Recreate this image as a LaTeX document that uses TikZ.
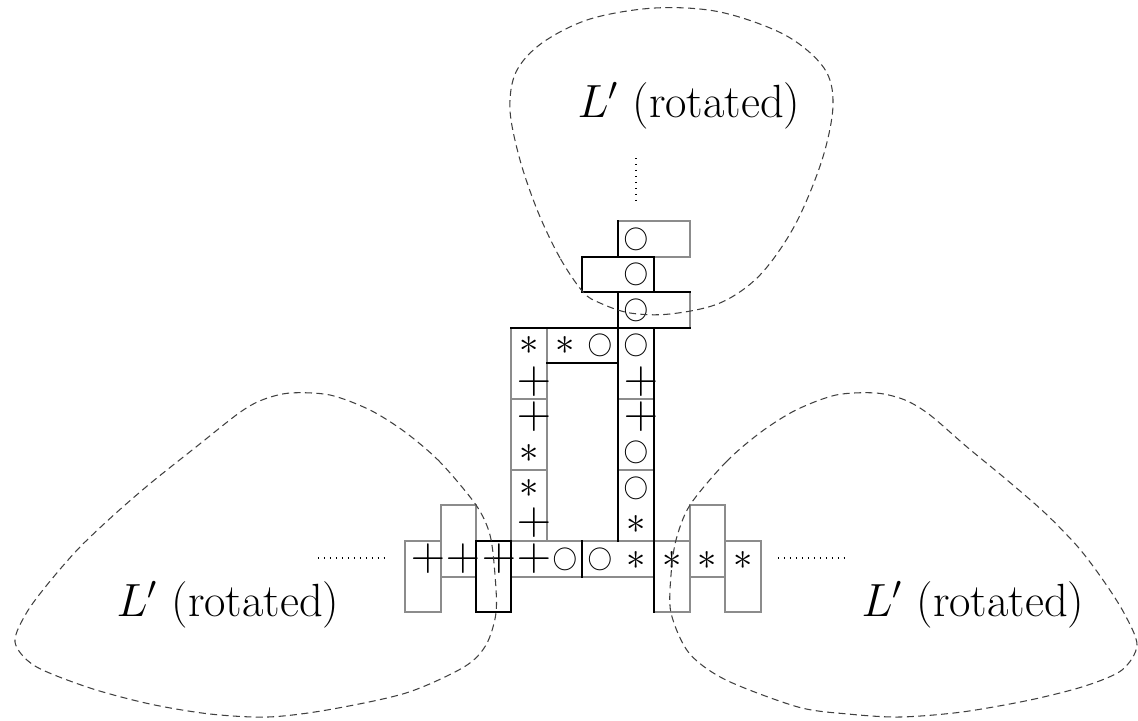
\RequirePackage{fix-cm}
\documentclass[tikz,border=0pt]{standalone}
\begin{document}
\begin{tikzpicture}[x=0.02cm,y=-0.02cm,
  tile/.style={draw=black!45,line width=0.8pt},
  edge/.style={draw=black,line width=0.8pt,line cap=rect},
  region/.style={draw=black!75,line width=0.6pt,dash pattern=on 4pt off 2.5pt},
  lead/.style={draw=black,line width=0.8pt,dash pattern=on 0.8pt off 2.6pt},
  sym/.style={inner sep=0pt,outer sep=0pt},
  plussym/.style={sym,font=\fontsize{27}{27}\selectfont},
  astsym/.style={sym,font=\fontsize{22}{22}\selectfont},
  circsym/.style={sym,font=\fontsize{14}{14}\selectfont},
  label/.style={inner sep=0pt,font=\fontsize{26.5}{30}\selectfont}
]
\useasboundingbox (0,0) rectangle (1138,720);

% dominoes, grey outlines
\draw[tile] (618,221) rectangle (690,257);
\draw[tile] (582,257) rectangle (654,292);
\draw[tile] (618,292) rectangle (690,328);
\draw[tile] (511,328) rectangle (547,399);
\draw[tile] (511,399) rectangle (547,470);
\draw[tile] (511,470) rectangle (547,541);
\draw[tile] (547,328) rectangle (618,363);
\draw[tile] (618,328) rectangle (654,399);
\draw[tile] (618,399) rectangle (654,470);
\draw[tile] (618,470) rectangle (654,541);
\draw[tile] (405,541) rectangle (441,612);
\draw[tile] (441,505) rectangle (476,577);
\draw[tile] (511,541) rectangle (582,577);
\draw[tile] (582,541) rectangle (654,577);
\draw[tile] (654,541) rectangle (690,612);
\draw[tile] (690,505) rectangle (725,577);
\draw[tile] (725,541) rectangle (761,612);

% black edges
\draw[edge] (618,221) -- (618,257);
\draw[edge] (582,257) rectangle (654,292);
\draw[edge] (582,292) -- (690,292);
\draw[edge] (618,292) -- (618,541);
\draw[edge] (511,328) -- (690,328);
\draw[edge] (654,328) -- (654,541);
\draw[edge] (547,363) -- (618,363);
\draw[edge] (476,541) rectangle (511,612);
\draw[edge] (582,541) -- (582,577);
\draw[edge] (654,541) -- (654,612);

% symbols: top column
\node[circsym] (t1) at (636,239) {$\bigcirc$};
\node[circsym] (t2) at (636,274) {$\bigcirc$};
\node[circsym] (t3) at (636,310) {$\bigcirc$};
% horizontal domino
\node[astsym] (h1) at (565,346) {$\ast$};
\node[circsym] (h2) at (600,345) {$\bigcirc$};
% left column
\node[astsym] (l1) at (529,346) {$\ast$};
\node[plussym] (l2) at (534,382) {$+$};
\node[plussym] (l3) at (534,417) {$+$};
\node[astsym] (l4) at (529,453) {$\ast$};
\node[astsym] (l5) at (529,488) {$\ast$};
\node[plussym] (l6) at (534,523) {$+$};
% right column
\node[circsym] (r1) at (636,345) {$\bigcirc$};
\node[plussym] (r2) at (641,382) {$+$};
\node[plussym] (r3) at (641,417) {$+$};
\node[circsym] (r4) at (636,452) {$\bigcirc$};
\node[circsym] (r5) at (636,488) {$\bigcirc$};
\node[astsym] (r6) at (636,524) {$\ast$};
% bottom row
\node[plussym] (b1) at (428,559) {$+$};
\node[plussym] (b2) at (463,559) {$+$};
\node[plussym] (b3) at (499,559) {$+$};
\node[plussym] (b4) at (534,559) {$+$};
\node[circsym] (b5) at (565,559) {$\bigcirc$};
\node[circsym] (b6) at (600,559) {$\bigcirc$};
\node[astsym] (b7) at (636,560) {$\ast$};
\node[astsym] (b8) at (672,560) {$\ast$};
\node[astsym] (b9) at (707,560) {$\ast$};
\node[astsym] (b10) at (743,560) {$\ast$};

% rotated copies of L'
\draw[region] plot[smooth cycle,tension=0.55] coordinates {
  (583,292) (560,258) (538,212) (520,160) (510,110) (516,72) (542,43)
  (590,19) (655,8) (720,12) (785,35) (824,68) (833,105) (822,160)
  (795,225) (760,275) (720,303) (670,314) (630,313) (600,303)};
\draw[region] plot[smooth cycle,tension=0.5] coordinates {
  (476,505) (440,462) (405,432) (370,410) (330,395) (290,393) (262,400)
  (239,413) (196,447) (152,482) (116,513) (80,547) (51,580) (27,612)
  (15,642) (35,666) (90,688) (150,704) (210,714) (268,717) (327,710)
  (406,693) (464,667) (486,645) (496,613) (495,575) (490,535)};
\draw[region] plot[smooth cycle,tension=0.5] coordinates {
  (690,505) (726,462) (761,432) (796,410) (836,395) (876,393) (905,400)
  (930,415) (967,447) (1007,480) (1045,513) (1078,547) (1103,580)
  (1124,613) (1137,645) (1122,670) (1085,686) (1030,700) (962,712)
  (900,717) (848,714) (798,707) (726,680) (689,653) (671,613) (671,575)
  (676,540)};

% labels and leaders
\node[label] (top) at (689,106) {$L'$ (rotated)};
\node[label] (left) at (228,605) {$L'$ (rotated)};
\node[label] (right) at (973,605) {$L'$ (rotated)};
\coordinate (ta) at (636,158);
\coordinate (tb) at (636,205);
\coordinate (la) at (318,558);
\coordinate (lb) at (388,558);
\coordinate (ra) at (778,558);
\coordinate (rb) at (849,558);
\draw[lead] (ta) -- (tb);
\draw[lead] (la) -- (lb);
\draw[lead] (ra) -- (rb);
\end{tikzpicture}
\end{document}
